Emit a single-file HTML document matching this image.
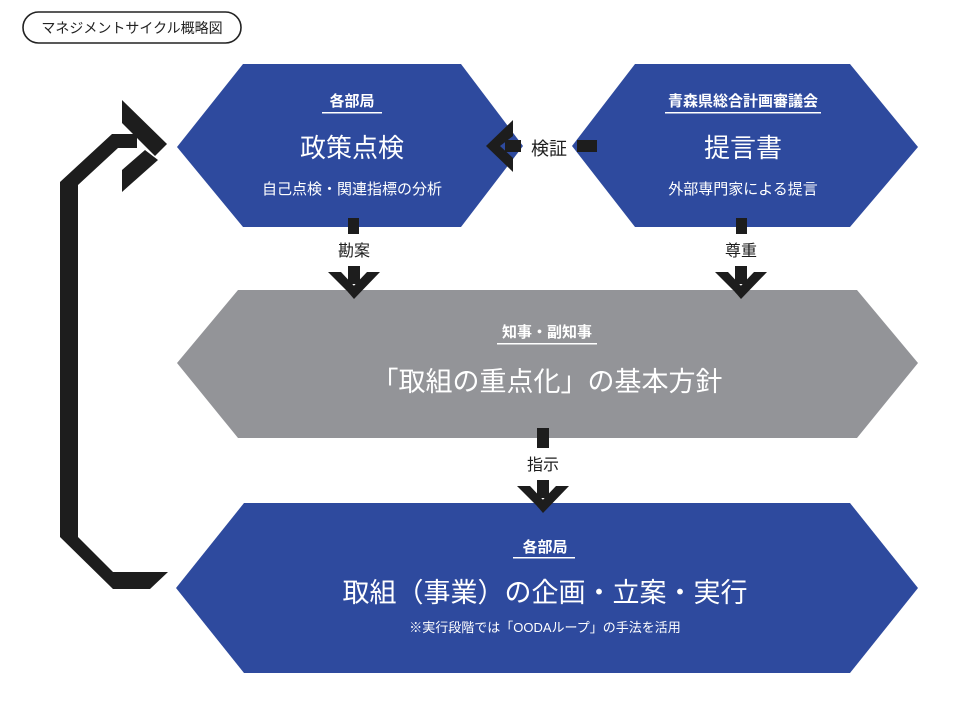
<!DOCTYPE html>
<html><head><meta charset="utf-8"><style>
body{margin:0;background:#fff;}
svg text{font-family:"Liberation Sans","Noto Sans CJK JP",sans-serif;}
</style></head><body>
<svg width="960" height="696" viewBox="0 0 960 696" xmlns="http://www.w3.org/2000/svg">
<rect x="23" y="12" width="218" height="31" rx="15.5" fill="#fff" stroke="#222" stroke-width="1.6"/>
<text x="132" y="33" font-size="14" text-anchor="middle" fill="#222">マネジメントサイクル概略図</text>

<polygon points="243,64 461,64 523,146 461,227 243,227 177,147" fill="#2e4a9e"/>
<polygon points="635,64 850,64 918,147 850,227 635,227 572,146" fill="#2e4a9e"/>
<polygon points="238,290 857,290 918,363 857,438 238,438 177,363" fill="#939498"/>
<polygon points="244,503 850,503 918,588 850,673 244,673 176,588" fill="#2e4a9e"/>

<g fill="#fff" text-anchor="middle">
<text x="352" y="106" font-size="15" font-weight="bold">各部局</text>
<rect x="322" y="112" width="60" height="1.5"/>
<text x="352" y="157" font-size="26">政策点検</text>
<text x="352" y="194" font-size="15">自己点検・関連指標の分析</text>
<text x="743" y="106" font-size="15" font-weight="bold">青森県総合計画審議会</text>
<rect x="665" y="112" width="156" height="1.5"/>
<text x="743" y="157" font-size="26">提言書</text>
<text x="743" y="194" font-size="15">外部専門家による提言</text>
<text x="547" y="337" font-size="15" font-weight="bold">知事・副知事</text>
<rect x="497" y="343" width="100" height="1.5"/>
<text x="547" y="391" font-size="27">「取組の重点化」の基本方針</text>
<text x="545" y="552" font-size="15" font-weight="bold">各部局</text>
<rect x="513" y="557" width="62" height="1.5"/>
<text x="545" y="602" font-size="27">取組（事業）の企画・立案・実行</text>
<text x="545" y="632" font-size="13">※実行段階では「OODAループ」の手法を活用</text>
</g>

<g fill="#1d1d1d">
<rect x="348" y="218" width="11" height="16"/>
<text x="354" y="256" font-size="16" text-anchor="middle">勘案</text>
<g transform="translate(354,266)">
<rect x="-6" y="0" width="12" height="18"/>
<polygon points="-26,6 -13,6 2,22 -4,28"/>
<polygon points="26,6 13,6 -6,26 0,33"/>
</g>
<rect x="736" y="218" width="11" height="16"/>
<text x="741" y="256" font-size="16" text-anchor="middle">尊重</text>
<g transform="translate(741,266)">
<rect x="-6" y="0" width="12" height="18"/>
<polygon points="-26,6 -13,6 2,22 -4,28"/>
<polygon points="26,6 13,6 -6,26 0,33"/>
</g>
<rect x="537" y="428" width="12" height="20"/>
<text x="543" y="470" font-size="16" text-anchor="middle">指示</text>
<g transform="translate(543,480)">
<rect x="-6" y="0" width="12" height="18"/>
<polygon points="-26,6 -13,6 2,22 -4,28"/>
<polygon points="26,6 13,6 -6,26 0,33"/>
</g>
<!-- 検証 -->
<rect x="577" y="140" width="20" height="12"/>
<text x="549" y="155" font-size="18" text-anchor="middle">検証</text>
<rect x="505" y="140" width="16" height="12"/>
<polygon points="513,120 513,136 500,146 486,146"/>
<polygon points="486,146 500,146 513,158 513,172"/>
<!-- left loop -->
<polygon points="60,185 78,185 78,537 113,572 168,572 150,589 113,589 60,537"/>
<polygon points="60,190 60,182 112,134 137,134 137,148 118,148 78,185 78,190"/>
<polygon points="122,100 167,144 155,156 122,123"/>
<polygon points="122,170 145,150 158,160 122,192"/>
</g>
</svg>
</body></html>
